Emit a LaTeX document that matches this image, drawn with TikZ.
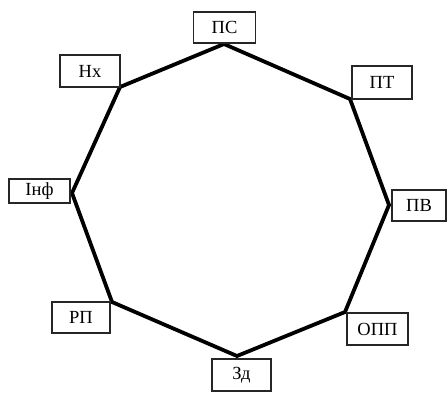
\documentclass[tikz,border=0pt]{standalone}
\usepackage{fontspec}
\setmainfont{Liberation Serif}
\begin{document}
\begin{tikzpicture}[x=1pt,y=-1pt,
  lbl/.style={draw=black!85, line width=1.7pt, fill=white, inner sep=0pt,
    font=\fontsize{18.5}{18.5}\selectfont},
  edge/.style={line width=3.8pt, line join=miter}]
\useasboundingbox (0,0) rectangle (447,392);
% corners of the octagon
\coordinate (v1) at (224,44);
\coordinate (v2) at (350,99);
\coordinate (v3) at (389,205);
\coordinate (v4) at (345,312);
\coordinate (v5) at (237,356);
\coordinate (v6) at (112,302);
\coordinate (v7) at (72,193);
\coordinate (v8) at (120,87);
\draw[edge] (v1) -- (v2) -- (v3) -- (v4) -- (v5) -- (v6) -- (v7) -- (v8) -- cycle;
% labels at the corners
\node[lbl, minimum width=62pt, minimum height=31pt] (ps)  at (224.5,27.5) {ПС};
\node[lbl, minimum width=60pt, minimum height=33pt] (pt)  at (382,82.5)  {ПТ};
\node[lbl, minimum width=54pt, minimum height=31pt] (pv)  at (419,205.5) {ПВ};
\node[lbl, minimum width=61pt, minimum height=32pt] (opp) at (377.5,329) {ОПП};
\node[lbl, minimum width=59pt, minimum height=32pt] (zd)  at (241.5,375) {Зд};
\node[lbl, minimum width=58pt, minimum height=31pt] (rp)  at (81,317.5)  {РП};
\node[lbl, minimum width=61pt, minimum height=24pt] (inf) at (39.5,191)  {Інф};
\node[lbl, minimum width=60pt, minimum height=32pt] (nh)  at (90,71)     {Нх};
\end{tikzpicture}
\end{document}
